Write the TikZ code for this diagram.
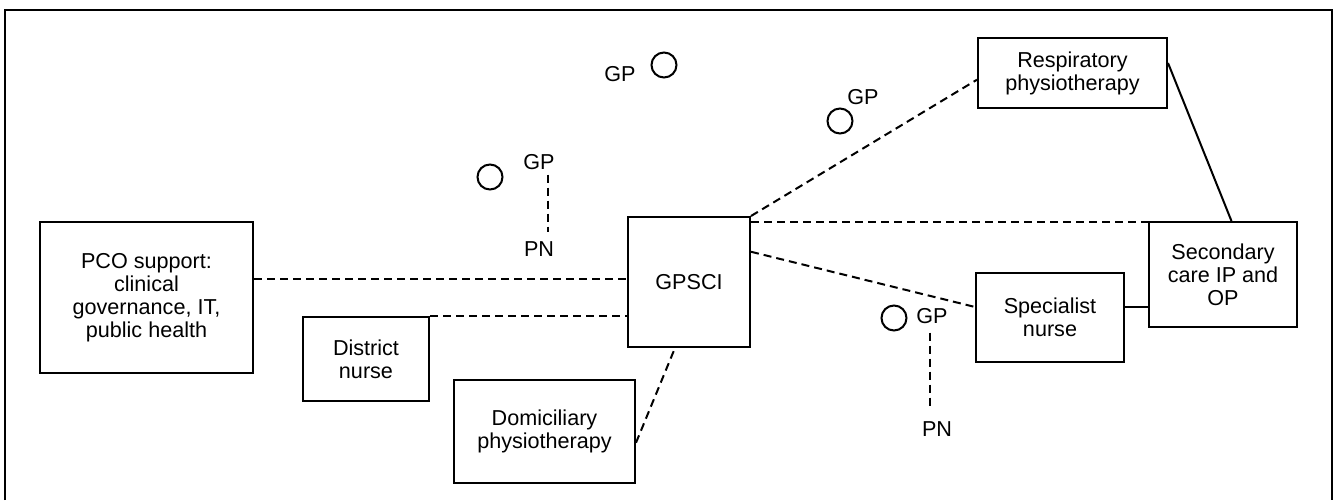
\documentclass[tikz,border=0pt]{standalone}
\usepackage{fontspec}
\setmainfont{Liberation Sans}

\tikzset{
  box/.style={draw, line width=1pt, align=center, inner sep=0pt,
    font=\fontsize{10.8}{11.5}\selectfont},
  lbl/.style={inner sep=2pt, font=\fontsize{10.8}{11.5}\selectfont},
  gpring/.style={draw, circle, line width=1pt, minimum size=12.5pt, inner sep=0pt},
  link/.style={line width=1pt, dash pattern=on 4pt off 2.5pt},
  tie/.style={line width=1pt}
}

\begin{document}
\begin{tikzpicture}[x=0.5pt,y=-0.5pt]

\useasboundingbox (0,0) rectangle (1335,500);

% frame
\draw[line width=1pt] (5,500) -- (5,10) -- (1332,10) -- (1332,500);

% boxes
\node[box, minimum width=106.5pt, minimum height=75.5pt] (pco) at (146.5,297.5)
  {PCO support:\\clinical\\governance, IT,\\public health};
\node[box, minimum width=61pt, minimum height=65pt] (gpsci) at (689,282) {GPSCI};
\node[box, minimum width=63pt, minimum height=42pt] (district) at (366,359)
  {District\\nurse};
\node[box, minimum width=90.5pt, minimum height=51.5pt] (domic) at (544.5,431.5)
  {Domiciliary\\physiotherapy};
\node[box, minimum width=94.5pt, minimum height=35pt] (resp) at (1072.5,73)
  {Respiratory\\physiotherapy};
\node[box, minimum width=74pt, minimum height=44.5pt] (spec) at (1050,317.5)
  {Specialist\\nurse};
\node[box, minimum width=74pt, minimum height=52.5pt] (second) at (1223,274.5)
  {Secondary\\care IP and\\OP};

% GP practices
\node[gpring] (gpa) at (664,65) {};
\node[lbl] (gpal) at (620,74) {GP};
\node[gpring] (gpb) at (840,121) {};
\node[lbl] (gpbl) at (863,97) {GP};
\node[gpring] (gpc) at (490,177) {};
\node[lbl] (gpcl) at (539,162.5) {GP};
\node[lbl] (pna) at (539,249) {PN};
\node[gpring] (gpd) at (894,318) {};
\node[lbl] (gpdl) at (932,316.5) {GP};
\node[lbl] (pnb) at (937,429.5) {PN};

% GP to practice nurse
\draw[link, shorten >=2.5pt] ([xshift=4.5pt]gpcl.south) -- ([xshift=4.5pt]pna.north);
\draw[link, shorten <=2pt, shorten >=4pt] ([xshift=-1pt]gpdl.south)
  -- ([xshift=-1pt]gpdl.south |- pnb.north);

% links to GPSCI
\draw[link] (pco.10) -- (pco.10 -| gpsci.west);
\draw[link] (district.north east) -- (district.north east -| gpsci.west);
\draw[link] (domic.-7) -- (gpsci.258);
\draw[link] (gpsci.north east) -- (resp.184);
\draw[link] (gpsci.44) -- (gpsci.44 -| second.west);
\draw[link] (gpsci.26) -- (spec.172);

% links to secondary care
\draw[tie] (resp.6) -- (second.81);
\draw[tie] (spec.8) -- (spec.8 -| second.west);

\end{tikzpicture}
\end{document}
